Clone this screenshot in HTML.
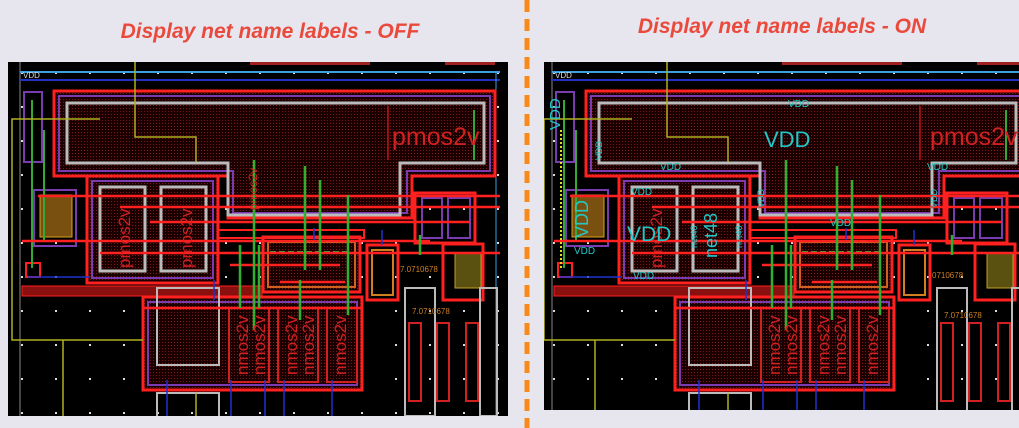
<!DOCTYPE html>
<html><head><meta charset="utf-8"><style>
html,body{margin:0;padding:0;background:#e7e5ee;}
svg{display:block}
.t{font-family:"Liberation Sans",sans-serif;font-style:italic;font-weight:bold;font-size:21px;fill:#ea4a3c}
.lb{font-family:"Liberation Sans",sans-serif;fill:#d02020}
.vd{font-family:"Liberation Sans",sans-serif;fill:#22c8c8}
</style></head><body>
<svg width="1019" height="428" viewBox="0 0 1019 428" xmlns="http://www.w3.org/2000/svg">
<defs>
<pattern id="dots" x="21" y="4" width="34" height="34" patternUnits="userSpaceOnUse"><rect x="0" y="0" width="2" height="2" fill="#ddd"/></pattern>
<pattern id="hatch" width="3" height="3" patternUnits="userSpaceOnUse"><rect width="3" height="3" fill="#1a0000"/><rect width="1" height="1" fill="#7a1818"/></pattern>
<clipPath id="cl"><rect x="8" y="62" width="500" height="354"/></clipPath>
<clipPath id="cr"><rect x="12" y="62" width="475" height="348"/></clipPath>
<g id="L">
 <rect x="0" y="62" width="520" height="360" fill="#000"/>
 <rect x="0" y="62" width="520" height="360" fill="url(#dots)"/>
 <line x1="20" y1="62" x2="20" y2="420" stroke="#888" stroke-width="1"/>
 <line x1="20" y1="72" x2="500" y2="72" stroke="#3aa0e0" stroke-width="2"/>
 <line x1="20" y1="80" x2="500" y2="80" stroke="#2030c0" stroke-width="2"/>
 <line x1="496" y1="72" x2="496" y2="420" stroke="#3aa0e0" stroke-width="1"/>
 <path d="M54 91H495V176H412V218H228V176H54Z" fill="url(#hatch)" stroke="#ff2020" stroke-width="3"/>
 <path d="M59 96H490V171H407V213H233V171H59Z" fill="none" stroke="#7a3ab0" stroke-width="2"/>
 <path d="M67 103H484V163H400V215H228V163H67Z" fill="none" stroke="#bbb" stroke-width="3"/>
 <line x1="388" y1="106" x2="388" y2="160" stroke="#ff2020" stroke-width="1"/>
 <line x1="474" y1="110" x2="474" y2="160" stroke="#3a3" stroke-width="2"/>
 <rect x="87" y="176" width="131" height="107" fill="url(#hatch)" stroke="#ff2020" stroke-width="3"/>
 <rect x="92" y="181" width="121" height="97" fill="none" stroke="#7a3ab0" stroke-width="2"/>
 <rect x="100" y="187" width="45" height="84" fill="none" stroke="#bbb" stroke-width="3"/>
 <rect x="161" y="187" width="45" height="84" fill="none" stroke="#bbb" stroke-width="3"/>
 <rect x="24" y="92" width="18" height="70" fill="none" stroke="#7a3ab0" stroke-width="2"/>
 <rect x="34" y="190" width="42" height="56" fill="none" stroke="#7a3ab0" stroke-width="2"/>
 <rect x="40" y="195" width="32" height="42" fill="#7a5010" stroke="#d8a020" stroke-width="1"/>
 <rect x="26" y="263" width="14" height="14" fill="none" stroke="#ff2020" stroke-width="2"/>
 <line x1="32" y1="100" x2="32" y2="268" stroke="#3a3" stroke-width="2"/>
 <line x1="44" y1="130" x2="44" y2="240" stroke="#3a3" stroke-width="2"/>
 <rect x="22" y="286" width="240" height="10" fill="#8a1010" stroke="#ff2020" stroke-width="1"/>
 <rect x="263" y="237" width="97" height="55" fill="url(#hatch)" stroke="#ff2020" stroke-width="3"/>
 <rect x="268" y="242" width="87" height="45" fill="none" stroke="#d06020" stroke-width="2"/>
 <line x1="270" y1="252" x2="350" y2="252" stroke="#3a3" stroke-width="2" stroke-dasharray="6 3"/>
 <rect x="218" y="230" width="146" height="8" fill="none" stroke="#ff2020" stroke-width="2"/>
 <rect x="143" y="297" width="219" height="93" fill="url(#hatch)" stroke="#ff2020" stroke-width="3"/>
 <rect x="148" y="302" width="209" height="83" fill="none" stroke="#7a3ab0" stroke-width="2"/>
 <rect x="157" y="288" width="62" height="77" fill="none" stroke="#bbb" stroke-width="2"/>
 <rect x="229" y="308" width="40" height="74" fill="none" stroke="#d02020" stroke-width="2"/>
 <rect x="278" y="308" width="40" height="74" fill="none" stroke="#d02020" stroke-width="2"/>
 <rect x="327" y="308" width="30" height="74" fill="none" stroke="#d02020" stroke-width="2"/>
 <rect x="157" y="393" width="62" height="30" fill="none" stroke="#bbb" stroke-width="2"/>
 <rect x="415" y="193" width="60" height="50" fill="none" stroke="#ff2020" stroke-width="3"/>
 <rect x="422" y="198" width="20" height="40" fill="none" stroke="#7a3ab0" stroke-width="2"/>
 <rect x="448" y="198" width="22" height="40" fill="none" stroke="#7a3ab0" stroke-width="2"/>
 <rect x="443" y="244" width="40" height="56" fill="none" stroke="#ff2020" stroke-width="3"/>
 <rect x="455" y="253" width="26" height="35" fill="#5a5010" stroke="#c0a030" stroke-width="1"/>
 <rect x="367" y="245" width="31" height="55" fill="none" stroke="#ff2020" stroke-width="3"/>
 <rect x="372" y="250" width="21" height="45" fill="none" stroke="#d08020" stroke-width="2"/>
 <rect x="405" y="288" width="30" height="128" fill="none" stroke="#bbb" stroke-width="2"/>
 <rect x="480" y="288" width="17" height="128" fill="none" stroke="#bbb" stroke-width="2"/>
 <rect x="409" y="323" width="12" height="78" fill="none" stroke="#d02020" stroke-width="2"/>
 <rect x="437" y="323" width="12" height="78" fill="none" stroke="#d02020" stroke-width="2"/>
 <rect x="466" y="323" width="12" height="78" fill="none" stroke="#d02020" stroke-width="2"/>
 <path d="M135 62V137H196V162" fill="none" stroke="#b0b020" stroke-width="1.5"/>
 <path d="M100 119H12V340H143" fill="none" stroke="#b0b020" stroke-width="1.5"/>
 <line x1="63" y1="340" x2="63" y2="420" stroke="#b0b020" stroke-width="1.5"/>
 <line x1="196" y1="393" x2="196" y2="420" stroke="#b0b020" stroke-width="1.5"/>
 <g stroke="#ff2020" stroke-width="2.5">
  <line x1="38" y1="196" x2="500" y2="196"/>
  <line x1="120" y1="207" x2="500" y2="207"/>
  <line x1="150" y1="222" x2="470" y2="222"/>
  <line x1="22" y1="241" x2="430" y2="241"/>
  <line x1="100" y1="253" x2="500" y2="253"/>
  <line x1="230" y1="265" x2="340" y2="265"/>
  <line x1="280" y1="282" x2="345" y2="282"/>
  <line x1="143" y1="308" x2="362" y2="308"/>
 </g>
 <g stroke="#30b030" stroke-width="2.5">
  <line x1="254" y1="160" x2="254" y2="330"/>
  <line x1="305" y1="166" x2="305" y2="270"/>
  <line x1="320" y1="180" x2="320" y2="270"/>
  <line x1="348" y1="195" x2="348" y2="315"/>
  <line x1="240" y1="245" x2="240" y2="308"/>
  <line x1="259" y1="245" x2="259" y2="308"/>
  <line x1="300" y1="280" x2="300" y2="320"/>
  <line x1="420" y1="235" x2="420" y2="255"/>
 </g>
 <g stroke="#2030d0" stroke-width="1.5">
  <line x1="167" y1="380" x2="167" y2="420"/>
  <line x1="231" y1="380" x2="231" y2="420"/>
  <line x1="265" y1="380" x2="265" y2="420"/>
  <line x1="284" y1="380" x2="284" y2="420"/>
  <line x1="332" y1="380" x2="332" y2="420"/>
  <line x1="214" y1="280" x2="214" y2="300"/>
  <line x1="314" y1="228" x2="314" y2="240"/>
  <line x1="382" y1="230" x2="382" y2="245"/>
  <line x1="28" y1="277" x2="90" y2="277"/>
 </g>
 <rect x="250" y="62" width="120" height="3" fill="#a02020"/>
 <rect x="445" y="62" width="50" height="3" fill="#a02020"/>
</g>
</defs>

<text x="270" y="38" text-anchor="middle" class="t">Display net name labels - OFF</text>
<text x="782" y="33" text-anchor="middle" class="t">Display net name labels - ON</text>
<line x1="527" y1="0" x2="527" y2="428" stroke="#f88a1a" stroke-width="5" stroke-dasharray="12 7"/>

<g clip-path="url(#cl)"><use href="#L"/>
 <text x="23" y="78" font-size="8" class="lb" style="fill:#ddd">VDD</text>
 <text x="392" y="145" font-size="25" class="lb">pmos2v</text>
 <text x="400" y="272" font-size="8" class="lb" style="fill:#d08020">7.0710678</text>
 <text x="412" y="314" font-size="8" class="lb" style="fill:#d08020">7.0710678</text>
 <g font-size="17" class="lb"><text transform="translate(130,268) rotate(-90)">pmos2v</text><text transform="translate(192,268) rotate(-90)">pmos2v</text>
 <text transform="translate(257,210) rotate(-90)" font-size="12">pmos2v</text>
 <text transform="translate(248,375) rotate(-90)">nmos2v</text><text transform="translate(265,375) rotate(-90)">nmos2v</text>
 <text transform="translate(297,375) rotate(-90)">nmos2v</text><text transform="translate(314,375) rotate(-90)">nmos2v</text>
 <text transform="translate(346,375) rotate(-90)">nmos2v</text></g>
</g>

<g clip-path="url(#cr)" transform="translate(532,0)"><use href="#L"/>
 <text x="23" y="78" font-size="8" class="lb" style="fill:#ddd">VDD</text>
 <text x="398" y="145" font-size="25" class="lb">pmos2v</text>
 <text x="400" y="278" font-size="8" class="lb" style="fill:#d08020">0710678</text>
 <text x="412" y="318" font-size="8" class="lb" style="fill:#d08020">7.0710678</text>
 <g font-size="17" class="lb"><text transform="translate(130,268) rotate(-90)">pmos2v</text>
 <text transform="translate(248,375) rotate(-90)">nmos2v</text><text transform="translate(265,375) rotate(-90)">nmos2v</text>
 <text transform="translate(297,375) rotate(-90)">nmos2v</text><text transform="translate(314,375) rotate(-90)">nmos2v</text>
 <text transform="translate(346,375) rotate(-90)">nmos2v</text></g>
 <g class="vd">
  <text x="232" y="147" font-size="22">VDD</text>
  <text x="256" y="107" font-size="10">VDD</text>
  <text x="128" y="170" font-size="10">VDD</text>
  <text x="395" y="170" font-size="10">VDD</text>
  <text x="298" y="226" font-size="10">VDD</text>
  <text x="99" y="195" font-size="10">VDD</text>
  <text x="101" y="279" font-size="10">VDD</text>
  <text x="42" y="254" font-size="10">VDD</text>
  <text x="95" y="241" font-size="21">VDD</text>
  <text transform="translate(28,130) rotate(-90)" font-size="15">VDD</text>
  <text transform="translate(56,238) rotate(-90)" font-size="18">VDD</text>
  <text transform="translate(70,160) rotate(-90)" font-size="9">VDD</text>
  <text transform="translate(232,208) rotate(-90)" font-size="9">VDD</text>
  <text transform="translate(405,208) rotate(-90)" font-size="9">VDD</text>
  <text transform="translate(185,258) rotate(-90)" font-size="18">net48</text>
  <text transform="translate(165,248) rotate(-90)" font-size="9">net48</text>
  <text transform="translate(210,248) rotate(-90)" font-size="9">net48</text>
 </g>
 <line x1="29" y1="130" x2="29" y2="270" stroke="#e0e020" stroke-width="2" stroke-dasharray="2 2"/>
</g>
</svg>
</body></html>
